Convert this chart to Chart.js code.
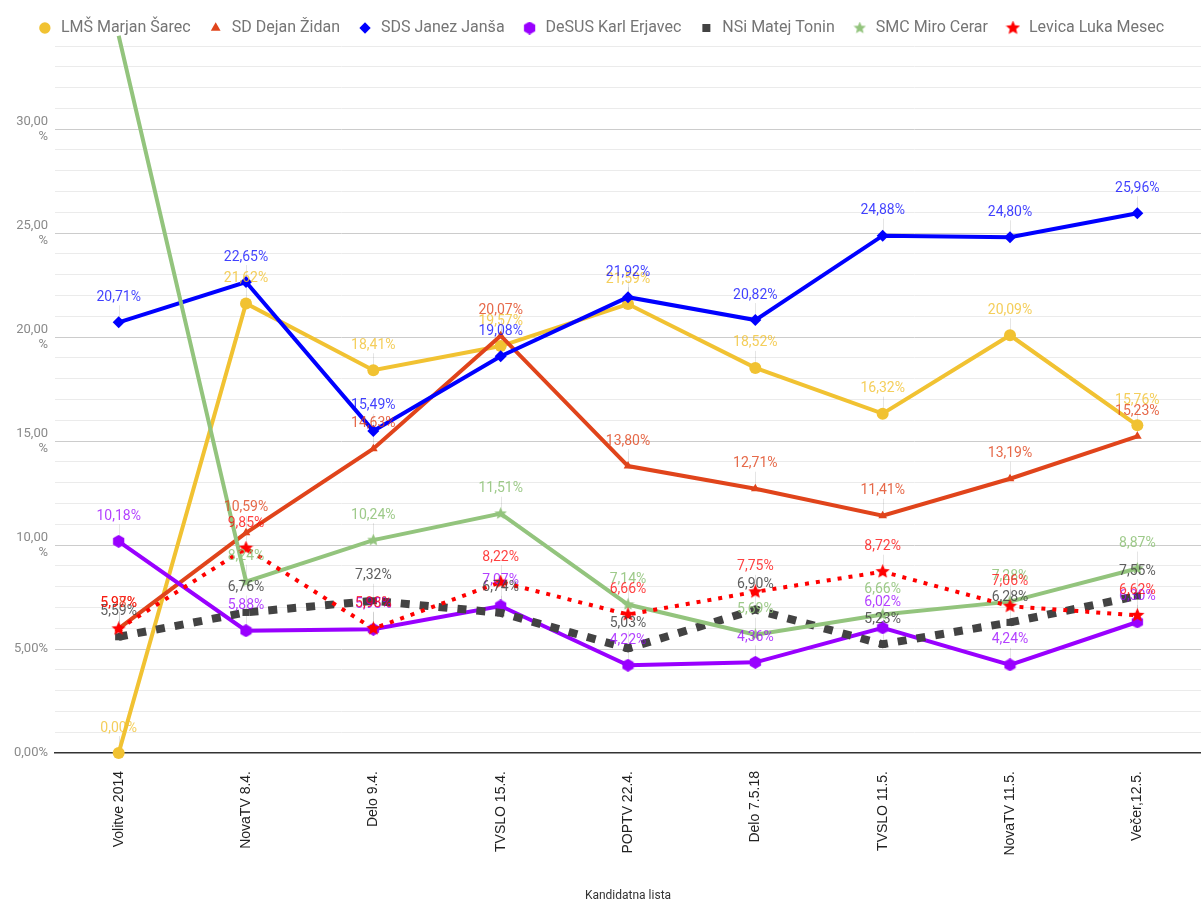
<!DOCTYPE html>
<html>
<head>
<meta charset="utf-8">
<title>Ankete</title>
<script src="https://cdn.jsdelivr.net/npm/chart.js@4.4.1/dist/chart.umd.min.js"></script>
<style>
  html, body { margin: 0; padding: 0; background: #fff; }
  #wrap { width: 1201px; height: 905px; position: relative; }
</style>
</head>
<body>
<div id="wrap"><canvas id="chart"></canvas></div>
<script>
/* ── data ── */
var CATEGORIES = ["Volitve 2014", "NovaTV 8.4.", "Delo 9.4.", "TVSLO 15.4.", "POPTV 22.4.",
                  "Delo 7.5.18", "TVSLO 11.5.", "NovaTV 11.5.", "Večer,12.5."];

var SERIES_NAMES = ["LMŠ Marjan Šarec", "SD Dejan Židan", "SDS Janez Janša", "DeSUS Karl Erjavec",
                    "NSi Matej Tonin", "SMC Miro Cerar", "Levica Luka Mesec"];

var LMS    = [0.00, 21.62, 18.41, 19.57, 21.59, 18.52, 16.32, 20.09, 15.76];
var SD     = [5.98, 10.59, 14.63, 20.07, 13.80, 12.71, 11.41, 13.19, 15.23];
var SDS    = [20.71, 22.65, 15.49, 19.08, 21.92, 20.82, 24.88, 24.80, 25.96];
var DESUS  = [10.18, 5.88, 5.95, 7.07, 4.22, 4.36, 6.02, 4.24, 6.30];
var NSI    = [5.59, 6.76, 7.32, 6.74, 5.03, 6.90, 5.23, 6.28, 7.55];
var SMC    = [34.49, 8.24, 10.24, 11.51, 7.14, 5.69, 6.66, 7.28, 8.87];
var LEVICA = [5.97, 9.85, 5.98, 8.22, 6.66, 7.75, 8.72, 7.06, 6.62];

var Y_MIN = 0, Y_MAX = 34;

/* ── colours ── */
var LINE_COLORS  = ["#f1c232", "#e0441b", "#0000ff", "#9900ff", "#434343", "#93c47d", "#ff0000"];
var LABEL_COLORS = ["rgba(241,194,50,.8)", "rgba(224,68,27,.8)", "rgba(0,0,255,.75)", "rgba(153,0,255,.75)",
                    "rgba(67,67,67,.85)", "rgba(147,196,125,.9)", "rgba(255,0,0,.75)"];

/* ── helpers ── */
function fmtPct(v) { return v.toFixed(2).replace(".", ",") + "%"; }

function marker(size, color, draw) {
  var c = document.createElement("canvas");
  c.width = size; c.height = size;
  var g = c.getContext("2d");
  g.fillStyle = color;
  g.beginPath();
  draw(g, size / 2, size / 2, size / 2);
  g.closePath();
  g.fill();
  return c;
}

function starPath(g, cx, cy, r) {
  var inner = r * 0.45;
  for (var k = 0; k < 10; k++) {
    var rad = k % 2 ? inner : r;
    var a = -Math.PI / 2 + k * Math.PI / 5;
    var px = cx + rad * Math.cos(a), py = cy + rad * Math.sin(a);
    if (k === 0) g.moveTo(px, py); else g.lineTo(px, py);
  }
}

function hexPath(g, cx, cy, r) {
  for (var k = 0; k < 6; k++) {
    var a = -Math.PI / 2 + k * Math.PI / 3;
    var px = cx + r * Math.cos(a), py = cy + r * Math.sin(a);
    if (k === 0) g.moveTo(px, py); else g.lineTo(px, py);
  }
}

var HEX_PURPLE = marker(13, LINE_COLORS[3], hexPath);
var STAR_GREEN = marker(13, LINE_COLORS[5], starPath);
var STAR_RED   = marker(15, LINE_COLORS[6], starPath);

function series(i, data, extra) {
  var ds = {
    label: SERIES_NAMES[i],
    data: data,
    borderColor: LINE_COLORS[i],
    backgroundColor: LINE_COLORS[i],
    pointBackgroundColor: LINE_COLORS[i],
    pointBorderColor: LINE_COLORS[i],
    pointBorderWidth: 0,
    borderWidth: 4,
    tension: 0,
    fill: false,
    clip: false,
    order: 6 - i,
    labelColor: LABEL_COLORS[i],
  };
  for (var k in extra) ds[k] = extra[k];
  return ds;
}

/* ── value labels with faint stems ── */
var valueLabels = {
  id: "valueLabels",
  beforeDatasetsDraw: function (chart) {
    var ctx = chart.ctx, area = chart.chartArea;
    ctx.save();
    ctx.strokeStyle = "rgba(0,0,0,.1)";
    ctx.lineWidth = 1;
    chart.data.datasets.forEach(function (ds, i) {
      chart.getDatasetMeta(i).data.forEach(function (pt) {
        if (pt.y < area.top) return;
        ctx.beginPath();
        ctx.moveTo(Math.round(pt.x) + 0.5, pt.y);
        ctx.lineTo(Math.round(pt.x) + 0.5, pt.y - 17);
        ctx.stroke();
      });
    });
    ctx.restore();
  },
  afterDatasetsDraw: function (chart) {
    var ctx = chart.ctx, area = chart.chartArea;
    ctx.save();
    ctx.font = "14px Roboto";
    ctx.textAlign = "center";
    ctx.textBaseline = "middle";
    chart.data.datasets.forEach(function (ds, i) {
      chart.getDatasetMeta(i).data.forEach(function (pt, j) {
        if (pt.y < area.top) return;
        ctx.fillStyle = ds.labelColor;
        ctx.fillText(fmtPct(ds.data[j]), pt.x, pt.y - 25);
      });
    });
    ctx.restore();
  }
};

var datasets = [
  series(0, LMS,    { pointStyle: "circle",   pointRadius: 6 }),
  series(1, SD,     { pointStyle: "triangle", pointRadius: 5 }),
  series(2, SDS,    { pointStyle: "rectRot",  pointRadius: 6 }),
  series(3, DESUS,  { pointStyle: HEX_PURPLE }),
  series(4, NSI,    { pointStyle: "rect", pointRadius: 5, borderWidth: 8, borderDash: [9, 10] }),
  series(5, SMC,    { pointStyle: STAR_GREEN }),
  series(6, LEVICA, { pointStyle: STAR_RED, borderWidth: 4, borderDash: [4, 7] }),
];

new Chart(document.getElementById("chart"), {
  type: "line",
  data: { labels: CATEGORIES, datasets: datasets },
  plugins: [valueLabels],
  options: {
    responsive: true,
    maintainAspectRatio: false,
    animation: false,
    layout: { autoPadding: false, padding: { top: 3, right: 0, left: 0, bottom: 0 } },
    plugins: {
      tooltip: { enabled: false },
      legend: {
        position: "top",
        padding: 0,
        labels: {
          usePointStyle: true,
          boxWidth: 16,
          boxHeight: 8,
          padding: 17,
          color: "#757575",
          font: { family: "Roboto", size: 16 },
          generateLabels: function (chart) {
            var items = Chart.defaults.plugins.legend.labels.generateLabels(chart);
            items.forEach(function (it) { it.lineWidth = 0; it.lineDash = []; });
            return items.sort(function (a, b) { return a.datasetIndex - b.datasetIndex; });
          }
        }
      }
    },
    scales: {
      x: {
        offset: true,
        grid: { display: false },
        border: { display: true, color: "#333", width: 1.5 },
        afterFit: function (scale) {
          scale.height = 152;
          scale.paddingRight = 0;
        },
        ticks: {
          autoSkip: false,
          maxRotation: 90,
          minRotation: 90,
          padding: 10,
          color: "#222",
          font: { family: "Liberation Sans", size: 14 }
        },
        title: {
          display: true,
          text: "Kandidatna lista",
          color: "#333",
          padding: { top: 0, bottom: 2 },
          font: { family: "Roboto", size: 12 }
        }
      },
      y: {
        min: Y_MIN,
        max: Y_MAX,
        border: { display: false },
        afterFit: function (scale) { scale.width = 55; },
        grid: {
          drawTicks: false,
          color: function (c) {
            var v = c.tick.value;
            if (v === 0) return "rgba(0,0,0,0)";
            return v % 5 === 0 ? "#cccccc" : "#ebebeb";
          }
        },
        ticks: {
          stepSize: 1,
          autoSkip: false,
          padding: 7,
          color: "#8a8a8a",
          font: { family: "Roboto", size: 13 },
          callback: function (v) {
            if (v % 5 !== 0 || v > 30) return "";
            var s = v.toFixed(2).replace(".", ",");
            return v >= 10 ? [s, "%"] : s + "%";
          }
        }
      }
    }
  }
});
</script>
</body>
</html>
